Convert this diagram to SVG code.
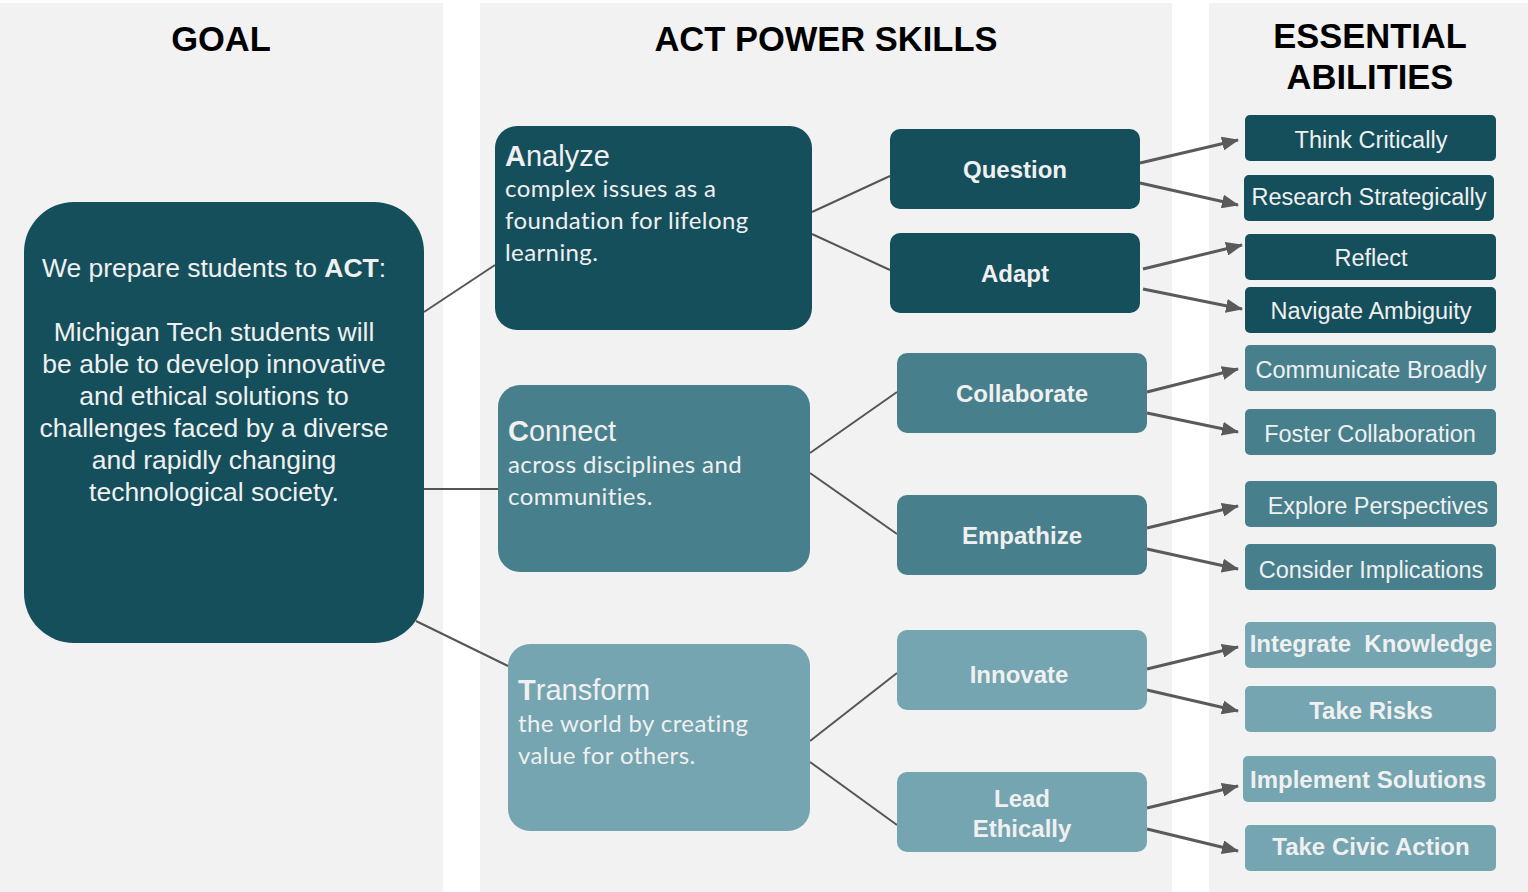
<svg xmlns="http://www.w3.org/2000/svg" width="1528" height="892" viewBox="0 0 1528 892">
<style>
.panel{fill:#f2f2f2}
.title{font-family:"Liberation Sans",Arial,sans-serif;font-weight:bold;font-size:34.5px;fill:#000;text-anchor:middle}
.dark{fill:#154f5c}
.mid{fill:#47808c}
.light{fill:#74a5b0}
.t{font-family:"Liberation Sans",Arial,sans-serif;fill:#f0f0f0}
.goal{font-size:26.5px;text-anchor:middle}
.skill{font-size:24px;font-weight:bold;text-anchor:middle}
.ab{font-size:23.5px;text-anchor:middle}
.abb{font-size:24px;font-weight:bold;text-anchor:middle}
.head{font-size:29px}
.body{font-family:Lato,"Open Sans",sans-serif;fill:#f0f0f0;font-size:24px;letter-spacing:0.4px}
.ln{stroke:#555;stroke-width:2;fill:none}
.ar{stroke:#5a5a5a;stroke-width:3;fill:none;marker-end:url(#ah)}
</style>
<defs>
<marker id="ah" markerUnits="userSpaceOnUse" markerWidth="18" markerHeight="14" refX="16" refY="7" orient="auto">
<path d="M0,0 L17,7 L0,14 Z" fill="#5a5a5a"/>
</marker>
</defs>
<rect width="1528" height="892" fill="#ffffff"/>
<rect class="panel" x="0" y="3" width="443" height="889"/>
<rect class="panel" x="480" y="3" width="692" height="889"/>
<rect class="panel" x="1209" y="3" width="319" height="889"/>
<text class="title" x="221" y="51">GOAL</text>
<text class="title" x="826" y="51">ACT POWER SKILLS</text>
<text class="title" x="1370" y="48">ESSENTIAL</text>
<text class="title" x="1370" y="89">ABILITIES</text>

<g id="connectors">
<line class="ln" x1="424" y1="312" x2="495" y2="265"/>
<line class="ln" x1="424" y1="489" x2="498" y2="489"/>
<line class="ln" x1="416" y1="621" x2="508" y2="666"/>
<line class="ln" x1="812" y1="212" x2="890" y2="176"/>
<line class="ln" x1="812" y1="234" x2="890" y2="270"/>
<line class="ln" x1="810" y1="453" x2="897" y2="392"/>
<line class="ln" x1="810" y1="473" x2="897" y2="534"/>
<line class="ln" x1="810" y1="741" x2="897" y2="673"/>
<line class="ln" x1="810" y1="762" x2="897" y2="825"/>
<line class="ar" x1="1140" y1="163" x2="1238" y2="140"/>
<line class="ar" x1="1140" y1="183" x2="1238" y2="205"/>
<line class="ar" x1="1143" y1="269" x2="1242" y2="245"/>
<line class="ar" x1="1143" y1="289" x2="1242" y2="309"/>
<line class="ar" x1="1147" y1="392" x2="1238" y2="369"/>
<line class="ar" x1="1147" y1="413" x2="1238" y2="432"/>
<line class="ar" x1="1147" y1="528" x2="1238" y2="506"/>
<line class="ar" x1="1147" y1="549" x2="1238" y2="569"/>
<line class="ar" x1="1147" y1="669" x2="1238" y2="647"/>
<line class="ar" x1="1147" y1="690" x2="1238" y2="711"/>
<line class="ar" x1="1147" y1="808" x2="1238" y2="786"/>
<line class="ar" x1="1147" y1="829" x2="1238" y2="851"/>
</g>

<g id="goal">
<rect class="dark" x="24" y="202" width="400" height="441" rx="50"/>
<text class="t goal" x="214" y="277">We prepare students to <tspan font-weight="bold">ACT</tspan>:</text>
<text class="t goal" x="214" y="341">Michigan Tech students will</text>
<text class="t goal" x="214" y="373">be able to develop innovative</text>
<text class="t goal" x="214" y="405">and ethical solutions to</text>
<text class="t goal" x="214" y="437">challenges faced by a diverse</text>
<text class="t goal" x="214" y="469">and rapidly changing</text>
<text class="t goal" x="214" y="501">technological society.</text>
</g>

<g id="analyze">
<rect class="dark" x="495" y="126" width="317" height="204" rx="22"/>
<text class="t head" x="505" y="166"><tspan font-weight="bold">A</tspan>nalyze</text>
<text class="body" x="505" y="197">complex issues as a</text>
<text class="body" x="505" y="229">foundation for lifelong</text>
<text class="body" x="505" y="261">learning.</text>
</g>
<g id="connect">
<rect class="mid" x="498" y="385" width="312" height="187" rx="22"/>
<text class="t head" x="508" y="441"><tspan font-weight="bold">C</tspan>onnect</text>
<text class="body" x="508" y="473">across disciplines and</text>
<text class="body" x="508" y="505">communities.</text>
</g>
<g id="transform">
<rect class="light" x="508" y="644" width="302" height="187" rx="22"/>
<text class="t head" x="518" y="700"><tspan font-weight="bold">T</tspan>ransform</text>
<text class="body" x="518" y="732">the world by creating</text>
<text class="body" x="518" y="764">value for others.</text>
</g>

<g id="question"><rect class="dark" x="890" y="129" width="250" height="80" rx="10"/><text class="t skill" x="1015" y="178">Question</text></g>
<g id="adapt"><rect class="dark" x="890" y="233" width="250" height="80" rx="10"/><text class="t skill" x="1015" y="282">Adapt</text></g>
<g id="collaborate"><rect class="mid" x="897" y="353" width="250" height="80" rx="10"/><text class="t skill" x="1022" y="402">Collaborate</text></g>
<g id="empathize"><rect class="mid" x="897" y="495" width="250" height="80" rx="10"/><text class="t skill" x="1022" y="544">Empathize</text></g>
<g id="innovate"><rect class="light" x="897" y="630" width="250" height="80" rx="10"/><text class="t skill" x="1019" y="683">Innovate</text></g>
<g id="lead"><rect class="light" x="897" y="772" width="250" height="80" rx="10"/><text class="t skill" x="1022" y="807">Lead</text><text class="t skill" x="1022" y="837">Ethically</text></g>

<g id="think"><rect class="dark" x="1245" y="115" width="251" height="46" rx="5"/><text class="t ab" x="1371" y="148">Think Critically</text></g>
<g id="research"><rect class="dark" x="1244" y="175" width="250" height="46" rx="5"/><text class="t ab" x="1369" y="205">Research Strategically</text></g>
<g id="reflect"><rect class="dark" x="1245" y="234" width="251" height="46" rx="5"/><text class="t ab" x="1371" y="266">Reflect</text></g>
<g id="navigate"><rect class="dark" x="1245" y="287" width="251" height="46" rx="5"/><text class="t ab" x="1371" y="319">Navigate Ambiguity</text></g>
<g id="communicate"><rect class="mid" x="1245" y="345" width="251" height="46" rx="5"/><text class="t ab" x="1371" y="378">Communicate Broadly</text></g>
<g id="foster"><rect class="mid" x="1245" y="409" width="251" height="46" rx="5"/><text class="t ab" x="1370" y="442">Foster Collaboration</text></g>
<g id="explore"><rect class="mid" x="1245" y="481" width="252" height="46" rx="5"/><text class="t ab" x="1378" y="514">Explore Perspectives</text></g>
<g id="consider"><rect class="mid" x="1245" y="544" width="251" height="46" rx="5"/><text class="t ab" x="1371" y="578">Consider Implications</text></g>
<g id="integrate"><rect class="light" x="1245" y="622" width="251" height="46" rx="5"/><text class="t abb" x="1371" y="652">Integrate&#160; Knowledge</text></g>
<g id="risks"><rect class="light" x="1245" y="686" width="251" height="46" rx="5"/><text class="t abb" x="1371" y="719">Take Risks</text></g>
<g id="implement"><rect class="light" x="1243" y="756" width="253" height="46" rx="5"/><text class="t abb" x="1368" y="788">Implement Solutions</text></g>
<g id="civic"><rect class="light" x="1245" y="825" width="251" height="46" rx="5"/><text class="t abb" x="1371" y="855">Take Civic Action</text></g>
</svg>
